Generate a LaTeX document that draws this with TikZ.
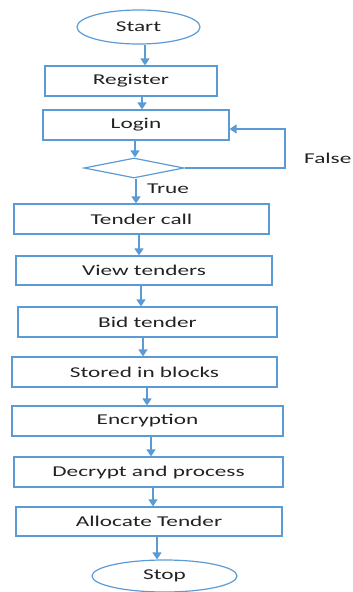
\documentclass[tikz,border=0pt]{standalone}
\usepackage{fontspec}
\setmainfont{Carlito}[FakeStretch=1.55]
\usetikzlibrary{arrows.meta,shapes.geometric}
\definecolor{lineblue}{HTML}{5B9BD5}
\definecolor{txt}{HTML}{222222}
\begin{document}
\begin{tikzpicture}[x=1pt,y=-1pt,
  every node/.style={font=\fontsize{15}{17}\selectfont,text=txt},
  box/.style={draw=lineblue,line width=1.2pt,rectangle,inner sep=0pt},
  oval/.style={draw=lineblue,line width=1.2pt,ellipse,inner sep=0pt},
  dec/.style={draw=lineblue,line width=1.2pt,diamond,aspect=5,inner sep=0pt,minimum width=100pt,minimum height=20pt},
  arr/.style={draw=lineblue,line width=1.5pt,-{Triangle[width=9pt,length=7pt]}},
  lbl/.style={anchor=west,inner sep=0pt}]
\useasboundingbox (0,0) rectangle (353,592);
\node[oval,minimum width=123pt,minimum height=34pt] (start) at (138.5,27) {Start};
\node[box,minimum width=172pt,minimum height=30pt] (register) at (131,81) {Register};
\node[box,minimum width=186pt,minimum height=30pt] (login) at (136,125) {Login};
\node[dec] (dia) at (134,168) {};
\node[box,minimum width=255pt,minimum height=30pt] (tcall) at (141.5,219) {Tender call};
\node[box,minimum width=256pt,minimum height=29pt] (view) at (144,270.5) {View tenders};
\node[box,minimum width=259pt,minimum height=30pt] (bid) at (147.5,322) {Bid tender};
\node[box,minimum width=265pt,minimum height=30pt] (stored) at (144.5,372) {Stored in blocks};
\node[box,minimum width=271pt,minimum height=30pt] (enc) at (147.5,421) {Encryption};
\node[box,minimum width=269pt,minimum height=30pt] (decr) at (148.5,472) {Decrypt and process};
\node[box,minimum width=266pt,minimum height=29pt] (alloc) at (149,521.5) {Allocate Tender};
\node[oval,minimum width=145pt,minimum height=32pt] (stop) at (164.5,576) {Stop};
\node[lbl] (truelbl) at (147,189) {True};
\node[lbl] (falselbl) at (304,158) {False};
\coordinate (fb) at (285,129);
\draw[arr] (start.south -| 145,0) -- (register.north -| 145,0);
\draw[arr] (register.south -| 142,0) -- (login.north -| 142,0);
\draw[arr] (login.south -| 135,0) -- (dia.north -| 135,0);
\draw[arr] (dia.south -| 136,0) -- (tcall.north -| 136,0);
\draw[arr] (tcall.south -| 139,0) -- (view.north -| 139,0);
\draw[arr] (view.south -| 141,0) -- (bid.north -| 141,0);
\draw[arr] (bid.south -| 143,0) -- (stored.north -| 143,0);
\draw[arr] (stored.south -| 147,0) -- (enc.north -| 147,0);
\draw[arr] (enc.south -| 151,0) -- (decr.north -| 151,0);
\draw[arr] (decr.south -| 153,0) -- (alloc.north -| 153,0);
\draw[arr] (alloc.south -| 157,0) -- (stop.north -| 157,0);
\draw[arr] (dia.east) -| (fb) -- (login.east |- fb);
\end{tikzpicture}
\end{document}
